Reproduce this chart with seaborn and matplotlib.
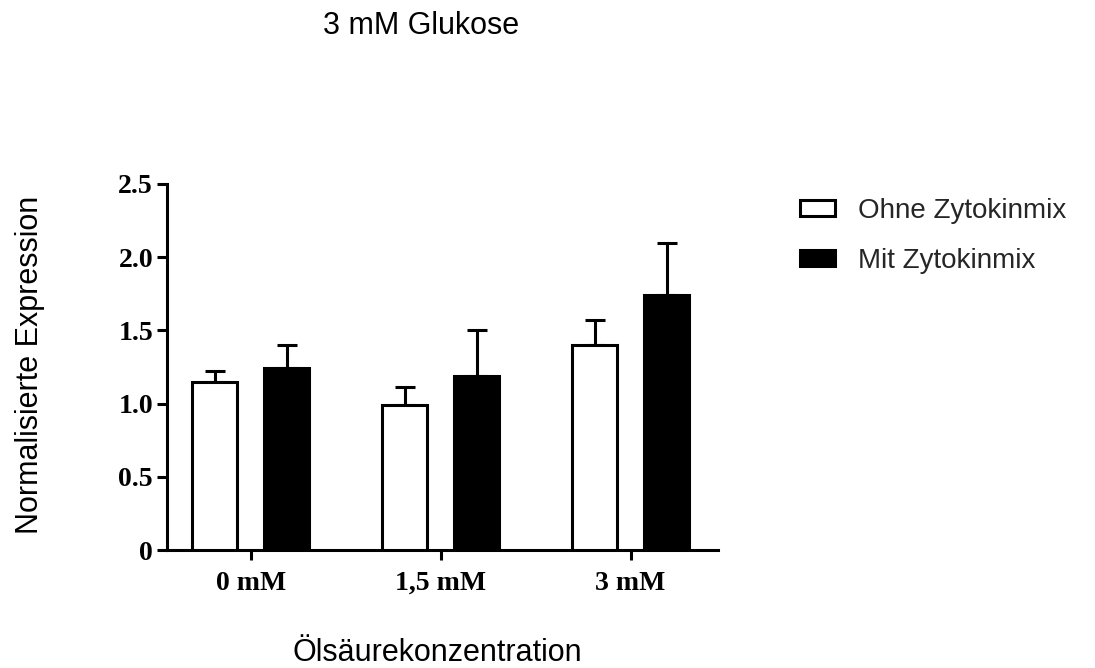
import numpy as np
import pandas as pd
import matplotlib
matplotlib.use("Agg")
import matplotlib.pyplot as plt
import seaborn as sns

# ---- data ----
categories = ["0 mM", "1,5 mM", "3 mM"]
series = ["Ohne Zytokinmix", "Mit Zytokinmix"]
ohne_mean = [1.15, 0.99, 1.40]
ohne_err = [0.07, 0.12, 0.17]
mit_mean = [1.24, 1.19, 1.74]
mit_err = [0.16, 0.31, 0.36]
yticks = [0, 0.5, 1.0, 1.5, 2.0, 2.5]
ytick_labels = ["0", "0.5", "1.0", "1.5", "2.0", "2.5"]

df = pd.DataFrame({
    "Konz": categories * 2,
    "Gruppe": [series[0]] * 3 + [series[1]] * 3,
    "Wert": ohne_mean + mit_mean,
    "Fehler": ohne_err + mit_err,
})

sns.set_theme(style="ticks")
plt.rcParams["font.family"] = ["Liberation Sans", "DejaVu Sans"]

fig = plt.figure(figsize=(10.95, 6.68), dpi=100)
ax = fig.add_axes([167 / 1095, 1 - 550 / 668, (718 - 167) / 1095, (550 - 184) / 668])

lw = 2.2
sns.barplot(data=df, x="Konz", y="Wert", hue="Gruppe", order=categories,
            hue_order=series, palette={series[0]: "white", series[1]: "black"},
            edgecolor="black", linewidth=lw, width=0.76, gap=0.37,
            errorbar=None, legend=False, ax=ax, zorder=3)

# error bars (upper only) from bar patch positions
for container, means, errs in zip(ax.containers, [ohne_mean, mit_mean], [ohne_err, mit_err]):
    xs = [p.get_x() + p.get_width() / 2 for p in container.patches]
    ax.errorbar(xs, means, yerr=[np.zeros(len(errs)), errs], fmt="none",
                ecolor="black", elinewidth=lw, capsize=7, capthick=lw, zorder=2)

ax.set_xlim(-0.44, 2.46)
ax.set_ylim(0, 2.5)
ax.set_yticks(yticks)
ax.set_yticklabels(ytick_labels)
for s in ["top", "right"]:
    ax.spines[s].set_visible(False)
for s in ["left", "bottom"]:
    ax.spines[s].set_linewidth(lw)
    ax.spines[s].set_color("black")
ax.tick_params(axis="both", length=7, width=lw, color="black", direction="out")
ax.tick_params(axis="y", pad=3)
ax.tick_params(axis="x", pad=8)
for lab in ax.get_xticklabels() + ax.get_yticklabels():
    lab.set_fontfamily(["Liberation Serif", "DejaVu Serif"])
    lab.set_fontweight("bold")
    lab.set_fontsize(20)
    lab.set_color("black")

ax.set_xlabel("")
ax.set_ylabel("")

fig.text(421 / 1095, 1 - 26 / 668, "3 mM Glukose", fontsize=22, ha="center", va="center", color="black")
fig.text(437 / 1095, 1 - 653 / 668, "Ölsäurekonzentration", fontsize=22, ha="center", va="center", color="black")
fig.text(30 / 1095, 1 - 365 / 668, "Normalisierte Expression", fontsize=22, ha="center", va="center",
         rotation=90, color="black")

handles = [ax.containers[0].patches[0], ax.containers[1].patches[0]]
leg = ax.legend(handles, series, loc="upper left", bbox_to_anchor=(800 / 1095, 1 - 198 / 668),
                bbox_transform=fig.transFigure, frameon=False, fontsize=20, borderpad=0,
                borderaxespad=0, handlelength=1.26, handleheight=0.54, handletextpad=0.83,
                labelspacing=0.85)

fig.savefig("out.png", dpi=100)
